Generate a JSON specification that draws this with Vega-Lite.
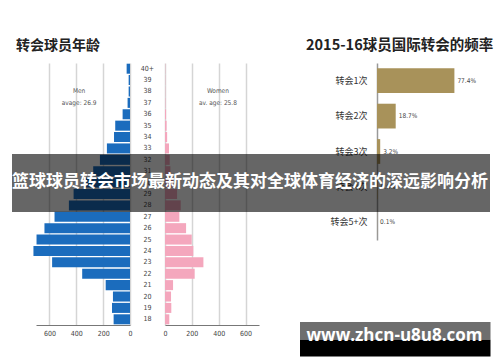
{
  "$schema": "https://vega.github.io/schema/vega-lite/v6.json",
  "background": "white",
  "padding": {"left": 12, "top": 37, "right": 10, "bottom": 9},
  "config": {"view": {"stroke": null}},
  "datasets": {
    "ages": [
      {"age": "18", "men": 122, "women": 32},
      {"age": "19", "men": 134, "women": 47},
      {"age": "20", "men": 127, "women": 45},
      {"age": "21", "men": 181, "women": 60},
      {"age": "22", "men": 356, "women": 221},
      {"age": "23", "men": 580, "women": 286},
      {"age": "24", "men": 719, "women": 211},
      {"age": "25", "men": 696, "women": 199},
      {"age": "26", "men": 637, "women": 157},
      {"age": "27", "men": 562, "women": 107},
      {"age": "28", "men": 455, "women": 117},
      {"age": "29", "men": 420, "women": 90},
      {"age": "30", "men": 340, "women": 60},
      {"age": "31", "men": 274, "women": 40},
      {"age": "32", "men": 224, "women": 35},
      {"age": "33", "men": 172, "women": 30},
      {"age": "34", "men": 119, "women": 16},
      {"age": "35", "men": 110, "women": 12},
      {"age": "36", "men": 55, "women": 8},
      {"age": "37", "men": 18, "women": 3},
      {"age": "38", "men": 10, "women": 2},
      {"age": "39", "men": 10, "women": 2},
      {"age": "40+", "men": 25, "women": 2}
    ],
    "transfers": [
      {"label": "转会1次", "share": 0.774},
      {"label": "转会2次", "share": 0.187},
      {"label": "转会3次", "share": 0.032},
      {"label": "转会4次", "share": 0.006},
      {"label": "转会5+次", "share": 0.001}
    ],
    "menNote": [{"line1": "Men", "line2": "avage: 26.9"}],
    "womenNote": [{"line1": "Women", "line2": "av. age: 25.8"}],
    "overlay": [{"caption": "篮球球员转会市场最新动态及其对全球体育经济的深远影响分析", "site": "www.zhcn-u8u8.com"}]
  },
  "bounds": "flush",
  "spacing": 35,
  "hconcat": [
    {
      "width": 94,
      "height": 262,
      "title": {"text": "转会球员年龄", "anchor": "start", "frame": "group", "dx": -20, "offset": 10, "font": "Noto Sans CJK SC", "fontSize": 14, "fontWeight": "bold", "color": "#222"},
      "layer": [
        {
          "data": {"name": "ages"},
          "mark": {"type": "bar", "color": "#1b6cbd"},
          "encoding": {
            "y": {"field": "age", "type": "ordinal", "sort": ["40+","39","38","37","36","35","34","33","32","31","30","29","28","27","26","25","24","23","22","21","20","19","18"],
              "scale": {"paddingInner": 0.12, "paddingOuter": 0.06},
              "axis": {"orient": "right", "title": null, "domain": false, "ticks": false, "labelAlign": "center", "labelPadding": 17, "labelFont": "DejaVu Sans Condensed", "labelFontSize": 7, "labelColor": "#444"}},
            "x": {"field": "men", "type": "quantitative", "scale": {"domain": [0, 700], "reverse": true, "nice": false},
              "axis": {"values": [0, 200, 400, 600], "labelOverlap": false, "labelFlush": false, "title": null, "grid": true, "gridColor": "#d5d5d5", "gridWidth": 1.5, "domainColor": "#777", "domainWidth": 1, "ticks": false, "labelFont": "DejaVu Sans Condensed", "labelFontSize": 7, "labelColor": "#444", "labelPadding": 4}}
          }
        },
        {
          "data": {"name": "menNote"},
          "mark": {"type": "text", "font": "DejaVu Sans Condensed", "fontSize": 6.5, "color": "#555"},
          "encoding": {
            "x": {"datum": 379, "type": "quantitative",
              "axis": {"values": [0, 200, 400, 600], "labelOverlap": false, "labelFlush": false, "title": null, "grid": true, "gridColor": "#d5d5d5", "gridWidth": 1.5, "domainColor": "#777", "domainWidth": 1, "ticks": false, "labelFont": "DejaVu Sans Condensed", "labelFontSize": 7, "labelColor": "#444", "labelPadding": 4}},
            "y": {"datum": "38", "type": "ordinal",
              "axis": {"orient": "right", "title": null, "domain": false, "ticks": false, "labelAlign": "center", "labelPadding": 17, "labelFont": "DejaVu Sans Condensed", "labelFontSize": 7, "labelColor": "#444"}},
            "text": {"field": "line1"}
          }
        },
        {
          "data": {"name": "menNote"},
          "mark": {"type": "text", "font": "DejaVu Sans Condensed", "fontSize": 6.5, "color": "#555"},
          "encoding": {
            "x": {"datum": 379, "type": "quantitative",
              "axis": {"values": [0, 200, 400, 600], "labelOverlap": false, "labelFlush": false, "title": null, "grid": true, "gridColor": "#d5d5d5", "gridWidth": 1.5, "domainColor": "#777", "domainWidth": 1, "ticks": false, "labelFont": "DejaVu Sans Condensed", "labelFontSize": 7, "labelColor": "#444", "labelPadding": 4}},
            "y": {"datum": "37", "type": "ordinal",
              "axis": {"orient": "right", "title": null, "domain": false, "ticks": false, "labelAlign": "center", "labelPadding": 17, "labelFont": "DejaVu Sans Condensed", "labelFontSize": 7, "labelColor": "#444"}},
            "text": {"field": "line2"}
          }
        }
      ]
    },
    {
      "width": 94,
      "height": 262,
      "layer": [
        {
          "data": {"name": "ages"},
          "mark": {"type": "bar", "color": "#f4a7bd"},
          "encoding": {
            "y": {"field": "age", "type": "ordinal", "sort": ["40+","39","38","37","36","35","34","33","32","31","30","29","28","27","26","25","24","23","22","21","20","19","18"],
              "scale": {"paddingInner": 0.12, "paddingOuter": 0.06}, "axis": null},
            "x": {"field": "women", "type": "quantitative", "scale": {"domain": [0, 700], "nice": false},
              "axis": {"values": [0, 200, 400, 600], "labelOverlap": false, "labelFlush": false, "title": null, "grid": true, "gridColor": "#d5d5d5", "gridWidth": 1.5, "domainColor": "#777", "domainWidth": 1, "ticks": false, "labelFont": "DejaVu Sans Condensed", "labelFontSize": 7, "labelColor": "#444", "labelPadding": 4}}
          }
        },
        {
          "data": {"name": "womenNote"},
          "mark": {"type": "text", "font": "DejaVu Sans Condensed", "fontSize": 6.5, "color": "#555"},
          "encoding": {
            "x": {"datum": 394, "type": "quantitative",
              "axis": {"values": [0, 200, 400, 600], "labelOverlap": false, "labelFlush": false, "title": null, "grid": true, "gridColor": "#d5d5d5", "gridWidth": 1.5, "domainColor": "#777", "domainWidth": 1, "ticks": false, "labelFont": "DejaVu Sans Condensed", "labelFontSize": 7, "labelColor": "#444", "labelPadding": 4}},
            "y": {"datum": "38", "type": "ordinal", "axis": null},
            "text": {"field": "line1"}
          }
        },
        {
          "data": {"name": "womenNote"},
          "mark": {"type": "text", "font": "DejaVu Sans Condensed", "fontSize": 6.5, "color": "#555"},
          "encoding": {
            "x": {"datum": 394, "type": "quantitative",
              "axis": {"values": [0, 200, 400, 600], "labelOverlap": false, "labelFlush": false, "title": null, "grid": true, "gridColor": "#d5d5d5", "gridWidth": 1.5, "domainColor": "#777", "domainWidth": 1, "ticks": false, "labelFont": "DejaVu Sans Condensed", "labelFontSize": 7, "labelColor": "#444", "labelPadding": 4}},
            "y": {"datum": "37", "type": "ordinal", "axis": null},
            "text": {"field": "line2"}
          }
        }
      ]
    },
    {
      "width": 196,
      "height": 177,
      "title": {"text": "2015-16球员国际转会的频率", "anchor": "start", "frame": "group", "dx": 12, "offset": 10, "font": "Noto Sans CJK SC", "fontSize": 14.5, "fontWeight": "bold", "color": "#222"},
      "layer": [
        {
          "data": {"name": "transfers"},
          "mark": {"type": "bar", "color": "#a8925a"},
          "encoding": {
            "y": {"field": "label", "type": "nominal", "sort": null, "scale": {"paddingInner": 0.3, "paddingOuter": 0.15},
              "axis": {"title": null, "ticks": false, "offset": -83, "domainColor": "#999", "domainWidth": 1.5, "labelPadding": 10, "labelFont": "Noto Sans CJK SC", "labelFontSize": 9, "labelColor": "#333"}},
            "x": {"field": "share", "type": "quantitative", "scale": {"domain": [-0.83, 1.13], "nice": false}, "axis": null}
          }
        },
        {
          "data": {"name": "transfers"},
          "mark": {"type": "text", "align": "left", "dx": 3, "font": "DejaVu Sans Condensed", "fontSize": 6.5, "color": "#444"},
          "encoding": {
            "y": {"field": "label", "type": "nominal", "sort": null},
            "x": {"field": "share", "type": "quantitative"},
            "text": {"field": "share", "format": ".1%"}
          }
        },
        {
          "data": {"name": "overlay"},
          "mark": {"type": "rect", "color": "black", "opacity": 0.6},
          "encoding": {
            "x": {"datum": -3.65, "type": "quantitative"},
            "x2": {"datum": 1.13},
            "y": {"datum": "转会3次", "type": "nominal", "bandPosition": 0.6},
            "y2": {"datum": "转会4次", "bandPosition": 1.51}
          }
        },
        {
          "data": {"name": "overlay"},
          "mark": {"type": "text", "font": "Noto Sans CJK SC", "fontWeight": "bold", "fontSize": 17, "color": "white", "align": "center", "baseline": "middle"},
          "encoding": {
            "x": {"datum": -1.27, "type": "quantitative"},
            "y": {"datum": "转会4次", "type": "nominal", "bandPosition": 0.3},
            "text": {"field": "caption"}
          }
        },
        {
          "data": {"name": "overlay"},
          "mark": {"type": "rect", "color": "#6e6e6e"},
          "encoding": {
            "x": {"datum": -0.77, "type": "quantitative"},
            "x2": {"datum": 1.135},
            "y": {"datum": "转会5+次", "type": "nominal", "bandPosition": 4.52},
            "y2": {"datum": "转会5+次", "bandPosition": 5.24}
          }
        },
        {
          "data": {"name": "overlay"},
          "mark": {"type": "rect", "color": "black"},
          "encoding": {
            "x": {"datum": -0.77, "type": "quantitative"},
            "x2": {"datum": 1.135},
            "y": {"datum": "转会5+次", "type": "nominal", "bandPosition": 5.24},
            "y2": {"datum": "转会5+次", "bandPosition": 5.92}
          }
        },
        {
          "data": {"name": "overlay"},
          "mark": {"type": "text", "font": "Open Sans", "fontWeight": "bold", "fontSize": 17, "color": "white", "align": "center", "baseline": "middle"},
          "encoding": {
            "x": {"datum": 0.175, "type": "quantitative"},
            "y": {"datum": "转会5+次", "type": "nominal", "bandPosition": 5.08},
            "text": {"field": "site"}
          }
        }
      ]
    }
  ]
}
